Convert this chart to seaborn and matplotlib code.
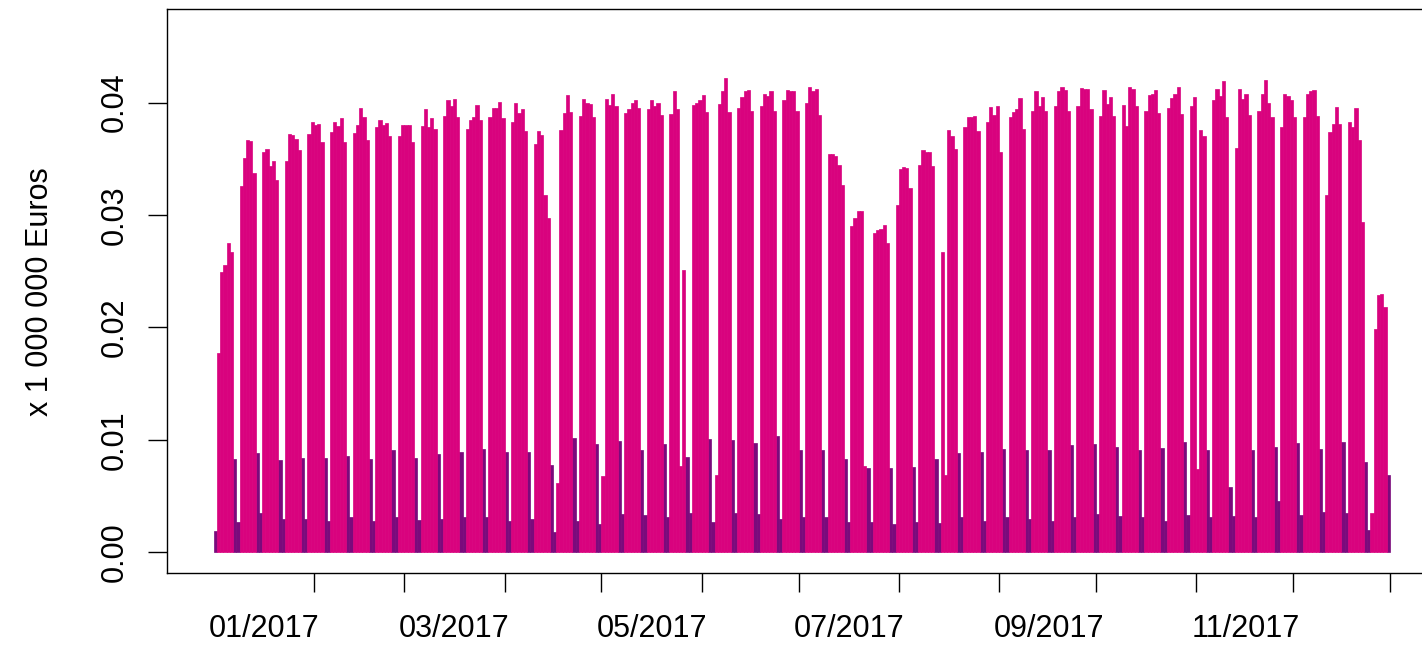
"""
Daily amounts for 2017, weekdays vs weekends.
"""
import numpy as np
import pandas as pd
import seaborn as sns
import matplotlib
from matplotlib import pyplot as plt
matplotlib.use('Agg')

# daily values (x 1 000 000 Euros), 1 Jan 2017 (Sunday) .. 30 Dec 2017
jan = [0.0019,
       0.0177, 0.0249, 0.0256, 0.0275, 0.0267, 0.0083, 0.0027,
       0.0326, 0.0351, 0.0367, 0.0366, 0.0337, 0.0088, 0.0035,
       0.0356, 0.0359, 0.0344, 0.0348, 0.0331, 0.0082, 0.0030,
       0.0348, 0.0372, 0.0371, 0.0368, 0.0358, 0.0084, 0.0030,
       0.0372, 0.0383]
feb = [0.0380, 0.0381, 0.0365, 0.0084, 0.0028,
       0.0374, 0.0383, 0.0379, 0.0386, 0.0365, 0.0086, 0.0031,
       0.0373, 0.0380, 0.0395, 0.0387, 0.0367, 0.0083, 0.0028,
       0.0378, 0.0385, 0.0380, 0.0382, 0.0370, 0.0091, 0.0031,
       0.0370, 0.0380]
mar = [0.0380, 0.0380, 0.0365, 0.0084, 0.0029,
       0.0379, 0.0394, 0.0378, 0.0386, 0.0377, 0.0087, 0.0030,
       0.0388, 0.0402, 0.0397, 0.0403, 0.0387, 0.0089, 0.0031,
       0.0377, 0.0385, 0.0387, 0.0398, 0.0385, 0.0092, 0.0031,
       0.0387, 0.0395, 0.0395, 0.0401, 0.0386]
apr = [0.0089, 0.0028,
       0.0383, 0.0400, 0.0391, 0.0394, 0.0375, 0.0089, 0.0030,
       0.0363, 0.0375, 0.0371, 0.0318, 0.0297, 0.0078, 0.0018,
       0.0062, 0.0376, 0.0391, 0.0407, 0.0392, 0.0102, 0.0028,
       0.0388, 0.0403, 0.0400, 0.0399, 0.0387, 0.0096, 0.0025]
may = [0.0068, 0.0403, 0.0398, 0.0408, 0.0397, 0.0099, 0.0034,
       0.0391, 0.0394, 0.0400, 0.0402, 0.0395, 0.0091, 0.0033,
       0.0394, 0.0402, 0.0397, 0.0400, 0.0389, 0.0096, 0.0031,
       0.0390, 0.0410, 0.0394, 0.0077, 0.0251, 0.0085, 0.0035,
       0.0398, 0.0400, 0.0402]
jun = [0.0407, 0.0392, 0.0101, 0.0027,
       0.0069, 0.0399, 0.0410, 0.0422, 0.0392, 0.0100, 0.0035,
       0.0395, 0.0405, 0.0410, 0.0411, 0.0393, 0.0097, 0.0034,
       0.0397, 0.0408, 0.0406, 0.0410, 0.0393, 0.0103, 0.0030,
       0.0402, 0.0411, 0.0410, 0.0410, 0.0393]
jul = [0.0091, 0.0031,
       0.0400, 0.0414, 0.0410, 0.0412, 0.0389, 0.0091, 0.0031,
       0.0354, 0.0354, 0.0353, 0.0345, 0.0327, 0.0083, 0.0027,
       0.0290, 0.0297, 0.0304, 0.0304, 0.0077, 0.0075, 0.0027,
       0.0284, 0.0287, 0.0288, 0.0291, 0.0275, 0.0075, 0.0025,
       0.0309]
aug = [0.0341, 0.0343, 0.0342, 0.0324, 0.0076, 0.0027,
       0.0345, 0.0358, 0.0356, 0.0356, 0.0344, 0.0083, 0.0026,
       0.0267, 0.0069, 0.0376, 0.0370, 0.0359, 0.0088, 0.0031,
       0.0378, 0.0387, 0.0387, 0.0388, 0.0375, 0.0089, 0.0028,
       0.0383, 0.0396, 0.0389, 0.0397]
sep = [0.0356, 0.0092, 0.0031,
       0.0387, 0.0392, 0.0394, 0.0404, 0.0377, 0.0091, 0.0030,
       0.0393, 0.0410, 0.0397, 0.0405, 0.0393, 0.0091, 0.0028,
       0.0397, 0.0410, 0.0414, 0.0411, 0.0393, 0.0095, 0.0031,
       0.0397, 0.0413, 0.0412, 0.0412, 0.0394, 0.0096]
oct_ = [0.0034,
        0.0388, 0.0411, 0.0399, 0.0405, 0.0388, 0.0094, 0.0032,
        0.0398, 0.0379, 0.0414, 0.0412, 0.0397, 0.0091, 0.0031,
        0.0393, 0.0407, 0.0408, 0.0411, 0.0391, 0.0093, 0.0028,
        0.0395, 0.0404, 0.0408, 0.0414, 0.0390, 0.0098, 0.0033,
        0.0397, 0.0405]
nov = [0.0074, 0.0376, 0.0370, 0.0091, 0.0031,
       0.0402, 0.0412, 0.0406, 0.0419, 0.0387, 0.0058, 0.0032,
       0.0360, 0.0412, 0.0403, 0.0408, 0.0389, 0.0091, 0.0031,
       0.0393, 0.0408, 0.0420, 0.0400, 0.0387, 0.0094, 0.0046,
       0.0378, 0.0408, 0.0406, 0.0402]
dec = [0.0387, 0.0097, 0.0033,
       0.0387, 0.0408, 0.0410, 0.0411, 0.0388, 0.0092, 0.0036,
       0.0318, 0.0374, 0.0381, 0.0396, 0.0381, 0.0098, 0.0035,
       0.0383, 0.0378, 0.0395, 0.0367, 0.0294, 0.0080, 0.0020,
       0.0035, 0.0199, 0.0229, 0.0230, 0.0218, 0.0069]

months = [jan, feb, mar, apr, may, jun, jul, aug, sep, oct_, nov, dec]
month_labels = ["01/2017", "03/2017", "05/2017", "07/2017", "09/2017", "11/2017"]
y_ticks = [0.00, 0.01, 0.02, 0.03, 0.04]

values = sum(months, [])
days = pd.date_range("2017-01-01", periods=len(values), freq="D")
df = pd.DataFrame({
    "pos": np.arange(len(values)) + 0.5,
    "value": values,
    "kind": np.where(days.dayofweek >= 5, "weekend", "weekday"),
})

sns.set_style("white")
plt.rcParams['font.family'] = ['Liberation Sans', 'DejaVu Sans']
plt.rcParams['text.color'] = 'black'
plt.rcParams['axes.labelcolor'] = 'black'
plt.rcParams['xtick.color'] = 'black'
plt.rcParams['ytick.color'] = 'black'

fig = plt.figure(figsize=(14.22, 6.45), dpi=100)
ax = fig.add_axes([0.1172, 0.1112, 0.8933, 0.8744])

sns.barplot(data=df, x="pos", y="value", hue="kind",
            palette={"weekday": "#D9027E", "weekend": "#7B0A7C"},
            saturation=1, native_scale=True, dodge=False, width=1,
            errorbar=None, legend=False, linewidth=0, ax=ax)

# close the antialiasing seams between neighbouring days
for p in ax.patches:
    p.set_edgecolor(p.get_facecolor())
    p.set_linewidth(0.5)

# month boundaries (days since 1 Jan) for the ticks, labels mid-month
edges = list(np.cumsum([len(m) for m in months]))
starts = [0] + edges[:-1]
mids = [starts[k] + 15.5 for k in range(0, 12, 2)]

ax.set_xlim(-14.56, 378.56)
ax.set_ylim(-0.00187, 0.04831)
ax.set_xticks(edges)
ax.set_xticklabels([])
ax.set_xticks(mids, minor=True)
ax.set_xticklabels(month_labels, minor=True, fontsize=22)
ax.tick_params(axis="x", which="major", length=13.7, width=1.0, color="black", bottom=True)
ax.tick_params(axis="x", which="minor", length=0, pad=29, bottom=True)

ax.set_yticks(y_ticks)
ax.set_yticklabels([f"{v:.2f}" for v in y_ticks], rotation=90, va="center", fontsize=22)
ax.tick_params(axis="y", length=13.7, width=1.0, color="black", pad=13, left=True)

ax.set_xlabel("")
ax.set_ylabel("x 1 000 000 Euros", fontsize=22)
ax.yaxis.set_label_coords(-0.088, 0.5)

for s in ax.spines.values():
    s.set_visible(True)
    s.set_color("black")
    s.set_linewidth(1.0)

fig.savefig("out.png", dpi=100)
